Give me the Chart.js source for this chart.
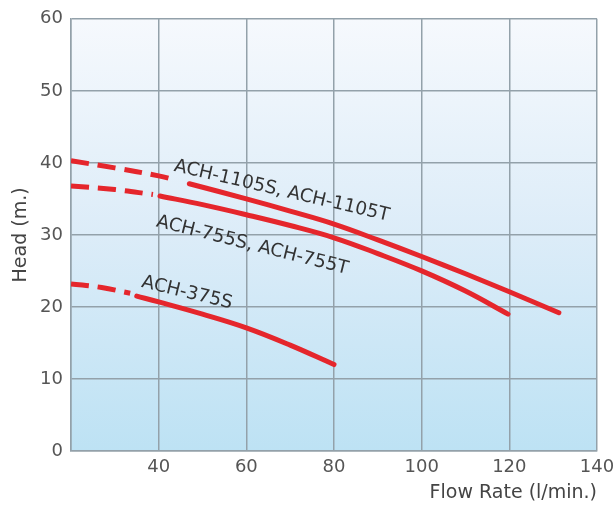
<!DOCTYPE html>
<html>
<head>
<meta charset="utf-8">
<script src="https://cdn.jsdelivr.net/npm/chart.js@4/dist/chart.umd.min.js"></script>
<style>
  html, body { margin: 0; padding: 0; background: #fff; }
  #wrap { width: 614px; height: 506px; }
</style>
</head>
<body>
<div id="wrap"><canvas id="pumpChart"></canvas></div>
<script>
// flow rate (l/min.) ticks and head (m.) ticks
const flowTicks = [20, 40, 60, 80, 100, 120, 140];
const headTicks = [0, 10, 20, 30, 40, 50, 60];

// ACH-1105S / ACH-1105T
const ach1105Dashed = [{x: 20, y: 40.3}, {x: 30, y: 39.3}, {x: 40, y: 38.2}, {x: 44, y: 37.6}];
const ach1105Solid = [{x: 47, y: 37.1}, {x: 60, y: 35.0}, {x: 70, y: 33.3}, {x: 80, y: 31.5}, {x: 90, y: 29.3}, {x: 100, y: 27.0}, {x: 110, y: 24.6}, {x: 120, y: 22.1}, {x: 131.3, y: 19.2}];

// ACH-755S / ACH-755T
const ach755Dashed = [{x: 20, y: 36.8}, {x: 30, y: 36.3}, {x: 38.7, y: 35.6}];
const ach755Solid = [{x: 40.3, y: 35.4}, {x: 50, y: 34.2}, {x: 60, y: 32.8}, {x: 70, y: 31.3}, {x: 80, y: 29.6}, {x: 90, y: 27.4}, {x: 100, y: 25.0}, {x: 110, y: 22.2}, {x: 119.7, y: 19.0}];

// ACH-375S
const ach375Dashed = [{x: 20, y: 23.2}, {x: 27, y: 22.7}, {x: 33.5, y: 21.9}];
const ach375Solid = [{x: 35, y: 21.5}, {x: 40, y: 20.7}, {x: 50, y: 19.0}, {x: 60, y: 17.1}, {x: 70, y: 14.7}, {x: 80, y: 12.0}];

// curve labels: text, anchor point (flow, head), angle in degrees
const curveLabels = [
    {text: 'ACH-1105S, ACH-1105T', x: 43.3, y: 38.9, angle: 13.1},
    {text: 'ACH-755S, ACH-755T', x: 39.3, y: 31.2, angle: 14},
    {text: 'ACH-375S', x: 35.9, y: 22.8, angle: 13.5}
];

const red = '#e5262c';

function curve(points, dashed) {
    return {
        data: points,
        borderColor: red,
        borderWidth: 5,
        borderDash: dashed ? [18, 9] : [],
        borderCapStyle: dashed ? 'butt' : 'round',
        pointRadius: 0,
        tension: 0.4,
        fill: false
    };
}

const plotBackground = {
    id: 'plotBackground',
    beforeDraw(chart) {
        const {ctx, chartArea: a} = chart;
        const g = ctx.createLinearGradient(0, a.top, 0, a.bottom);
        g.addColorStop(0, '#f6f9fd');
        g.addColorStop(0.5, '#dcecf8');
        g.addColorStop(1, '#bde2f4');
        ctx.save();
        ctx.fillStyle = g;
        ctx.fillRect(a.left, a.top, a.right - a.left, a.bottom - a.top);
        ctx.restore();
    }
};

const curveText = {
    id: 'curveText',
    afterDatasetsDraw(chart) {
        const {ctx, scales} = chart;
        ctx.save();
        ctx.font = '18.5px "DejaVu Sans"';
        ctx.fillStyle = '#333';
        ctx.textAlign = 'left';
        ctx.textBaseline = 'alphabetic';
        curveLabels.forEach(l => {
            ctx.save();
            ctx.translate(scales.x.getPixelForValue(l.x), scales.y.getPixelForValue(l.y));
            ctx.rotate(l.angle * Math.PI / 180);
            ctx.fillText(l.text, 0, 0);
            ctx.restore();
        });
        ctx.restore();
    }
};

const ctx = document.getElementById('pumpChart').getContext('2d');
new Chart(ctx, {
    type: 'line',
    data: {
        datasets: [
            curve(ach1105Dashed, true), curve(ach1105Solid, false),
            curve(ach755Dashed, true), curve(ach755Solid, false),
            curve(ach375Dashed, true), curve(ach375Solid, false)
        ]
    },
    options: {
        responsive: true,
        maintainAspectRatio: false,
        animation: false,
        layout: { padding: { left: 0, right: 17, top: 17, bottom: 0 } },
        plugins: { legend: { display: false }, tooltip: { enabled: false } },
        scales: {
            x: {
                type: 'linear',
                min: 20, max: 140,
                afterBuildTicks: s => { s.ticks = flowTicks.map(v => ({value: v})); },
                afterFit: s => { s.height = 55; s.paddingLeft = 0; s.paddingRight = 0; },
                grid: { color: '#93a1aa', lineWidth: 1.5, drawTicks: false },
                border: { color: '#93a1aa', width: 1.5 },
                ticks: {
                    padding: 6,
                    color: '#555',
                    font: { family: 'DejaVu Sans', size: 18 },
                    callback: v => v === 20 ? '' : v
                },
                title: {
                    display: true,
                    text: 'Flow Rate (l/min.)',
                    align: 'end',
                    color: '#444',
                    font: { family: 'DejaVu Sans', size: 19 },
                    padding: { top: 0, bottom: 2 }
                }
            },
            y: {
                min: 0, max: 60,
                afterBuildTicks: s => { s.ticks = headTicks.map(v => ({value: v})); },
                afterFit: s => { s.width = 71; },
                grid: { color: '#93a1aa', lineWidth: 1.5, drawTicks: false },
                border: { color: '#93a1aa', width: 1.5 },
                ticks: {
                    padding: 8,
                    color: '#555',
                    font: { family: 'DejaVu Sans', size: 18 }
                },
                title: {
                    display: true,
                    text: 'Head (m.)',
                    color: '#444',
                    font: { family: 'DejaVu Sans', size: 19 },
                    padding: { top: 10, bottom: 0 }
                }
            }
        }
    },
    plugins: [plotBackground, curveText]
});
</script>
</body>
</html>
